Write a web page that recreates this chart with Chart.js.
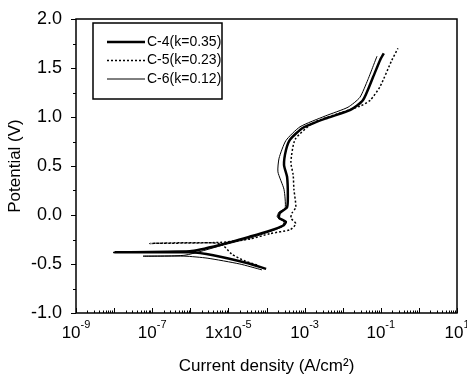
<!DOCTYPE html>
<html>
<head>
<meta charset="utf-8">
<script src="https://cdn.jsdelivr.net/npm/chart.js@4.4.1/dist/chart.umd.min.js"></script>
<style>
  html, body { margin: 0; padding: 0; background: #fff; }
  #wrap { width: 467px; height: 388px; position: relative; }
</style>
</head>
<body>
<div id="wrap"><canvas id="myChart"></canvas></div>
<script>
// series labels
const seriesLabels = ["C-4(k=0.35)", "C-5(k=0.23)", "C-6(k=0.12)"];

// log10 of current density (A/cm2) and potential (V)
const c4LogI = [-4.01, -4.51, -5.40, -6.01, -8.00, -6.01, -5.17, -4.43, -3.91, -3.57, -3.49, -3.67, -3.65,
    -3.46, -3.44, -3.46, -3.54, -3.49, -3.38, -3.04, -2.41, -1.81, -1.47, -1.20, -1.02, -0.92];
const c4E = [-0.55, -0.49, -0.41, -0.38, -0.38, -0.37, -0.30, -0.22, -0.16, -0.11, -0.07, -0.03, 0.02,
    0.08, 0.20, 0.39, 0.51, 0.66, 0.77, 0.89, 0.99, 1.07, 1.17, 1.41, 1.58, 1.65];

const c5LogI = [-4.25, -4.56, -4.91, -5.22, -7.06, -5.22, -4.43, -3.91, -3.38, -3.23, -3.36, -3.33, -3.23,
    -3.28, -3.30, -3.36, -3.25, -2.78, -2.07, -1.55, -1.28, -1.02, -0.71, -0.55];
const c5E = [-0.51, -0.47, -0.40, -0.29, -0.29, -0.28, -0.245, -0.19, -0.15, -0.09, -0.03, 0.02, 0.08,
    0.26, 0.41, 0.54, 0.77, 0.94, 1.04, 1.11, 1.17, 1.31, 1.58, 1.70];

const c6LogI = [-4.12, -4.70, -5.56, -6.14, -7.24, -6.14, -5.17, -4.43, -3.91, -3.59, -3.54, -3.72, -3.67,
    -3.51, -3.54, -3.70, -3.67, -3.49, -3.12, -2.46, -1.86, -1.55, -1.34, -1.18, -1.10];
const c6E = [-0.56, -0.50, -0.44, -0.42, -0.42, -0.41, -0.31, -0.235, -0.17, -0.12, -0.07, -0.02, 0.03,
    0.07, 0.26, 0.44, 0.58, 0.76, 0.90, 1.01, 1.10, 1.20, 1.38, 1.54, 1.62];

// axis ticks
const xTickValues = [1e-9, 1e-7, 1e-5, 1e-3, 1e-1, 1e1];
const xTickBases = ["10", "10", "1x10", "10", "10", "10"];
const xTickExps = ["-9", "-7", "-5", "-3", "-1", "1"];
const yTickValues = [-1.0, -0.5, 0.0, 0.5, 1.0, 1.5, 2.0];

const FONT = "'Liberation Sans', Arial, sans-serif";

function toPoints(logI, e) {
    return logI.map((v, i) => ({ x: Math.pow(10, v), y: e[i] }));
}

const framePlugin = {
    id: "frame",
    afterDraw(chart) {
        const { ctx, chartArea: a, scales } = chart;
        const x = scales.x, y = scales.y;
        ctx.save();
        ctx.strokeStyle = "#000";
        ctx.lineWidth = 1.5;
        ctx.strokeRect(a.left, a.top, a.right - a.left, a.bottom - a.top);

        // x ticks, pointing inward
        ctx.lineWidth = 1;
        ctx.beginPath();
        for (let p = -9; p <= 1; p++) {
            for (let m = 1; m < 10; m++) {
                const v = m * Math.pow(10, p);
                if (v > 10.0001) break;
                const px = Math.round(x.getPixelForValue(v)) + 0.5;
                const len = m === 1 ? 5 : 2.5;
                ctx.moveTo(px, a.bottom);
                ctx.lineTo(px, a.bottom - len);
            }
        }
        // y ticks, pointing outward
        for (let v = -1.0; v <= 2.0001; v += 0.25) {
            const py = Math.round(y.getPixelForValue(v)) + 0.5;
            const major = Math.abs(v * 2 - Math.round(v * 2)) < 1e-6;
            ctx.moveTo(a.left, py);
            ctx.lineTo(a.left - (major ? 5 : 3), py);
        }
        ctx.stroke();

        // x tick labels with superscript exponents
        ctx.fillStyle = "#000";
        ctx.textBaseline = "alphabetic";
        xTickValues.forEach((v, i) => {
            const px = x.getPixelForValue(v);
            ctx.font = "17px " + FONT;
            const wb = ctx.measureText(xTickBases[i]).width;
            ctx.font = "11px " + FONT;
            const we = ctx.measureText(xTickExps[i]).width;
            const left = px - (wb + we) / 2;
            ctx.font = "17px " + FONT;
            ctx.fillText(xTickBases[i], left, a.bottom + 25);
            ctx.font = "11px " + FONT;
            ctx.fillText(xTickExps[i], left + wb, a.bottom + 15);
        });

        // legend box
        const bx = 93, by = 23, bw = 129, bh = 76;
        ctx.lineWidth = 1.5;
        ctx.strokeRect(bx, by, bw, bh);
        ctx.font = "14px " + FONT;
        ctx.textBaseline = "middle";
        chart.data.datasets.forEach((ds, i) => {
            const ly = 42 + i * 18.5;
            ctx.beginPath();
            ctx.lineWidth = ds.borderWidth;
            ctx.setLineDash(ds.borderDash || []);
            ctx.moveTo(107, ly);
            ctx.lineTo(145, ly);
            ctx.stroke();
            ctx.setLineDash([]);
            ctx.fillText(ds.label, 147, ly);
        });
        ctx.restore();
    }
};

new Chart(document.getElementById("myChart"), {
    type: "line",
    data: {
        datasets: [
            {
                label: seriesLabels[0],
                data: toPoints(c4LogI, c4E),
                borderColor: "#000",
                borderWidth: 2.5,
            },
            {
                label: seriesLabels[1],
                data: toPoints(c5LogI, c5E),
                borderColor: "#000",
                borderWidth: 1.5,
                borderDash: [2, 2],
            },
            {
                label: seriesLabels[2],
                data: toPoints(c6LogI, c6E),
                borderColor: "#000",
                borderWidth: 1,
            },
        ],
    },
    options: {
        responsive: true,
        maintainAspectRatio: false,
        animation: false,
        elements: { point: { radius: 0 }, line: { tension: 0.2 } },
        layout: { padding: { top: 19, right: 10, left: 0, bottom: 0 } },
        plugins: { legend: { display: false }, tooltip: { enabled: false } },
        scales: {
            x: {
                type: "logarithmic",
                min: 1e-9,
                max: 1e1,
                grid: { display: false },
                border: { display: false },
                afterBuildTicks: (scale) => {
                    scale.ticks = xTickValues.map((v) => ({ value: v }));
                },
                afterFit: (scale) => {
                    scale.height = 75;
                    scale.paddingLeft = 0;
                    scale.paddingRight = 0;
                },
                ticks: { display: false },
                title: {
                    display: true,
                    text: "Current density (A/cm\u00B2)",
                    color: "#000",
                    font: { family: FONT, size: 17 },
                    padding: { top: 4, bottom: 11 },
                },
            },
            y: {
                min: -1.0,
                max: 2.0,
                grid: { display: false },
                border: { display: false },
                afterBuildTicks: (scale) => {
                    scale.ticks = yTickValues.map((v) => ({ value: v }));
                },
                afterFit: (scale) => {
                    scale.width = 76;
                    scale.paddingTop = 0;
                    scale.paddingBottom = 0;
                },
                ticks: {
                    padding: 6,
                    color: "#000",
                    font: { family: FONT, size: 18 },
                    callback: (v) => v.toFixed(1),
                },
                title: {
                    display: true,
                    text: "Potential (V)",
                    color: "#000",
                    font: { family: FONT, size: 17 },
                    padding: { top: 5 },
                },
            },
        },
    },
    plugins: [framePlugin],
});
</script>
</body>
</html>
